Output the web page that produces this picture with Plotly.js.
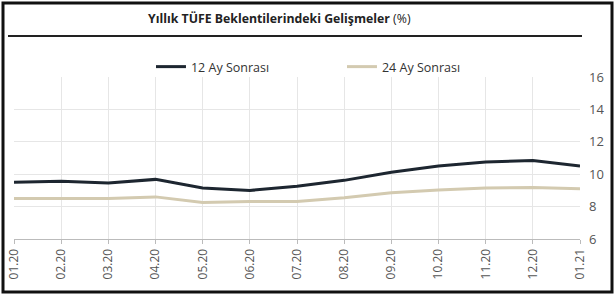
<!DOCTYPE html>
<html>
<head>
<meta charset="utf-8">
<script src="https://cdn.plot.ly/plotly-3.0.1.min.js"></script>
<style>html,body{margin:0;padding:0;background:#fff;}#chart{width:616px;height:295px;}</style>
</head>
<body>
<div id="chart"></div>
<script>
const months = ["01.20","02.20","03.20","04.20","05.20","06.20","07.20","08.20","09.20","10.20","11.20","12.20","01.21"];
const ay12 = [9.50, 9.56, 9.45, 9.68, 9.15, 9.00, 9.25, 9.62, 10.12, 10.50, 10.75, 10.85, 10.50];
const ay24 = [8.50, 8.50, 8.50, 8.60, 8.25, 8.32, 8.32, 8.55, 8.85, 9.02, 9.15, 9.18, 9.10];
const name12 = "12 Ay Sonrası";
const name24 = "24 Ay Sonrası";
const titleBold = "Yıllık TÜFE Beklentilerindeki Gelişmeler";

const font = "Open Sans, Noto Sans, sans-serif";
const traces = [
  {x: months, y: ay12, name: name12, type: "scatter", mode: "lines",
   line: {color: "#1d2630", width: 3}},
  {x: months, y: ay24, name: name24, type: "scatter", mode: "lines",
   line: {color: "#d3cab0", width: 3}}
];
const layout = {
  width: 616, height: 295,
  margin: {l: 14, r: 36, t: 77, b: 56, autoexpand: false},
  paper_bgcolor: "#fff", plot_bgcolor: "#fff",
  font: {family: font, color: "#444", size: 12},
  showlegend: true,
  legend: {orientation: "h", x: 0.242, y: (239 - 67) / 162, xanchor: "left", yanchor: "middle",
    font: {size: 12.5, color: "#333"}, entrywidth: 146, entrywidthmode: "pixels",
    itemwidth: 30, bgcolor: "rgba(0,0,0,0)"},
  xaxis: {type: "category", range: [0, 12], tickangle: -90, automargin: false,
    showgrid: true, gridcolor: "#e6e6e6", gridwidth: 1,
    showline: true, linecolor: "#bbb", linewidth: 1,
    ticks: "outside", ticklen: 4, tickcolor: "#bbb",
    tickfont: {size: 12, color: "#555"}, zeroline: false, fixedrange: true},
  yaxis: {side: "right", range: [6, 16], dtick: 2, tick0: 6, automargin: false,
    showgrid: true, gridcolor: "#e6e6e6", gridwidth: 1,
    showline: false, zeroline: false, ticks: "",
    ticklabelstandoff: 8,
    tickfont: {size: 13, color: "#555"}, fixedrange: true},
  annotations: [
    {xref: "paper", yref: "paper", x: (279 - 14) / 566, y: (239 - 19) / 162,
     xanchor: "center", yanchor: "middle", showarrow: false,
     text: "<b>" + titleBold + "</b> (%)", font: {size: 12.3, color: "#222", family: font}}
  ],
  shapes: [
    {type: "rect", xref: "paper", yref: "paper",
     x0: (3 - 14) / 566, x1: (612 - 14) / 566, y0: (239 - 292) / 162, y1: (239 - 3) / 162,
     line: {color: "#111", width: 3}, fillcolor: "rgba(0,0,0,0)", layer: "above"},
    {type: "line", xref: "paper", yref: "paper",
     x0: (8 - 14) / 566, x1: (582 - 14) / 566, y0: (239 - 36) / 162, y1: (239 - 36) / 162,
     line: {color: "#222", width: 2}}
  ]
};
Plotly.newPlot("chart", traces, layout, {displayModeBar: false, staticPlot: true});
</script>
</body>
</html>
